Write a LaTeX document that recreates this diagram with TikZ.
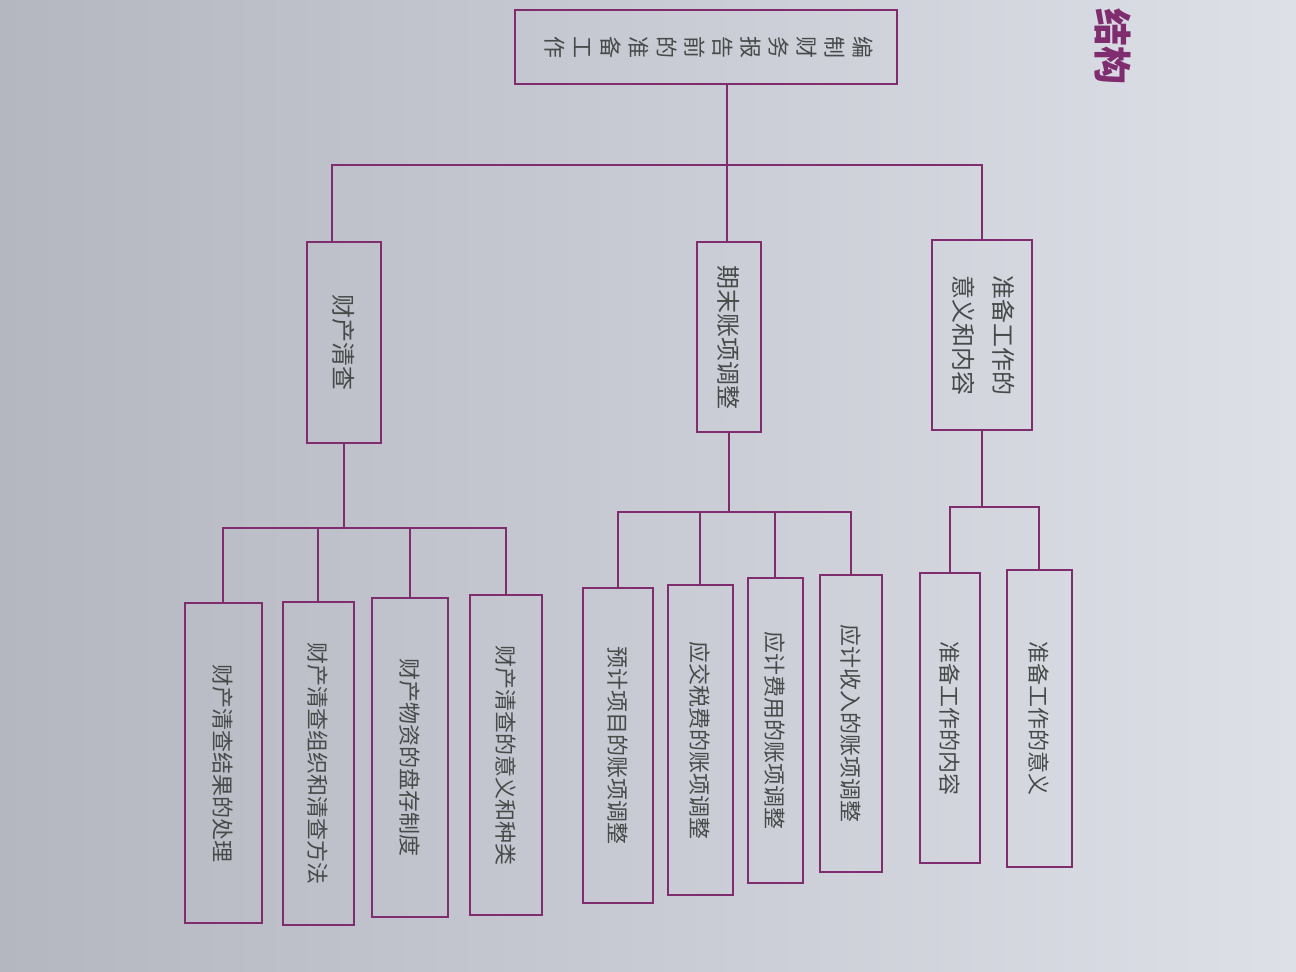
\documentclass[tikz,border=0pt]{standalone}
\usepackage{fontspec}
\usepackage{graphicx}
\newfontfamily\cjk{Noto Sans CJK SC}
\definecolor{linec}{RGB}{128,45,112}
\definecolor{inkc}{RGB}{70,74,72}
\definecolor{paperl}{RGB}{180,182,192}
\definecolor{paperr}{RGB}{222,224,232}
\newcommand{\sidetext}[1]{\rotatebox{-90}{#1}}

\begin{document}
\begin{tikzpicture}[x=1pt,y=-1pt,
box/.style={draw=linec,line width=2pt,inner sep=0pt,text=inkc,font=\cjk\fontsize{22}{26}\selectfont},
midbox/.style={box,font=\cjk\fontsize{24}{40}\selectfont},
link/.style={draw=linec,line width=1.6pt}]
\useasboundingbox (0,0) rectangle (1296,972);
\shade[left color=paperl,right color=paperr] (0,0) rectangle (1296,972);

\node[box,minimum width=382pt,minimum height=74pt,font=\cjk\fontsize{22}{28}\selectfont] (r) at (706,47)
{\sidetext{\begin{tabular}{@{}c@{}}编\\制\\财\\务\\报\\告\\前\\的\\准\\备\\工\\作\end{tabular}}};

\node[midbox,minimum width=74pt,minimum height=201pt] (m1) at (344,342) {\sidetext{财产清查}};
\node[midbox,minimum width=64pt,minimum height=190pt] (m2) at (729,337) {\sidetext{期末账项调整}};
\node[midbox,minimum width=100pt,minimum height=190pt] (m3) at (982,335)
{\sidetext{\begin{tabular}{@{}c@{}}准备工作的\\意义和内容\end{tabular}}};

\node[box,minimum width=77pt,minimum height=320pt] (l1) at (223,763) {\sidetext{财产清查结果的处理}};
\node[box,minimum width=71pt,minimum height=323pt] (l2) at (318,763) {\sidetext{财产清查组织和清查方法}};
\node[box,minimum width=76pt,minimum height=319pt] (l3) at (410,757) {\sidetext{财产物资的盘存制度}};
\node[box,minimum width=72pt,minimum height=320pt] (l4) at (506,755) {\sidetext{财产清查的意义和种类}};
\node[box,minimum width=70pt,minimum height=315pt] (l5) at (618,745) {\sidetext{预计项目的账项调整}};
\node[box,minimum width=65pt,minimum height=310pt] (l6) at (700,740) {\sidetext{应交税费的账项调整}};
\node[box,minimum width=55pt,minimum height=305pt] (l7) at (775,730) {\sidetext{应计费用的账项调整}};
\node[box,minimum width=62pt,minimum height=297pt] (l8) at (851,723) {\sidetext{应计收入的账项调整}};
\node[box,minimum width=60pt,minimum height=290pt] (l9) at (950,718) {\sidetext{准备工作的内容}};
\node[box,minimum width=65pt,minimum height=297pt] (l10) at (1039,718) {\sidetext{准备工作的意义}};

\node[text=linec,font=\cjk\bfseries\fontsize{38}{38}\selectfont] (head) at (1113,46) {\sidetext{结构}};

\coordinate (bus) at (727,165);
\coordinate (b1) at (344,528);
\coordinate (b2) at (729,512);
\coordinate (b3) at (982,507);

\draw[link] (r.south -| bus) -- (m2.north -| bus);
\draw[link] ([xshift=-12pt]m1.north) |- (bus) -| (m3.north);

\draw[link] (m1.south) -- (b1);
\draw[link] (l1.north) |- (b1) -| (l4.north);
\draw[link] (l2.north) -- (l2.north |- b1);
\draw[link] (l3.north) -- (l3.north |- b1);

\draw[link] (m2.south) -- (b2);
\draw[link] (l5.north) |- (b2) -| (l8.north);
\draw[link] (l6.north) -- (l6.north |- b2);
\draw[link] (l7.north) -- (l7.north |- b2);

\draw[link] (m3.south) -- (b3);
\draw[link] (l9.north) |- (b3) -| (l10.north);

\end{tikzpicture}
\end{document}
